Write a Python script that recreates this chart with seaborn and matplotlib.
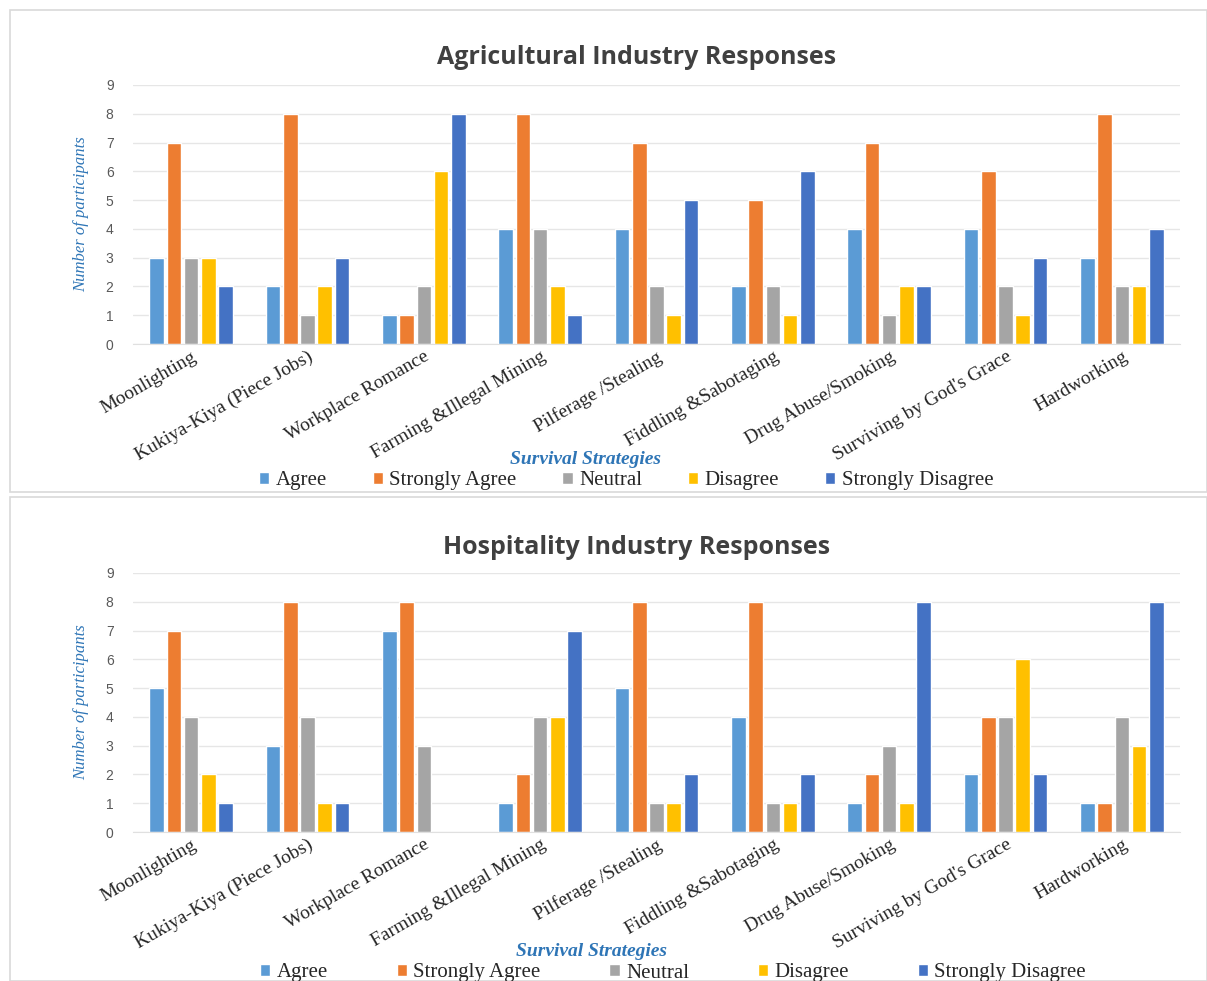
import matplotlib
matplotlib.use("Agg")
import matplotlib.pyplot as plt
from matplotlib.patches import Rectangle, Patch
import seaborn as sns
import pandas as pd

strategies = ["Moonlighting", "Kukiya-Kiya (Piece Jobs)", "Workplace Romance",
              "Farming &Illegal Mining", "Pilferage /Stealing", "Fiddling &Sabotaging",
              "Drug Abuse/Smoking", "Surviving by God's Grace", "Hardworking"]
responses = ["Agree", "Strongly Agree", "Neutral", "Disagree", "Strongly Disagree"]
colors = ["#5B9BD5", "#ED7D31", "#A5A5A5", "#FFC000", "#4472C4"]

agri_agree = [3, 2, 1, 4, 4, 2, 4, 4, 3]
agri_strongly_agree = [7, 8, 1, 8, 7, 5, 7, 6, 8]
agri_neutral = [3, 1, 2, 4, 2, 2, 1, 2, 2]
agri_disagree = [3, 2, 6, 2, 1, 1, 2, 1, 2]
agri_strongly_disagree = [2, 3, 8, 1, 5, 6, 2, 3, 4]

hosp_agree = [5, 3, 7, 1, 5, 4, 1, 2, 1]
hosp_strongly_agree = [7, 8, 8, 2, 8, 8, 2, 4, 1]
hosp_neutral = [4, 4, 3, 4, 1, 1, 3, 4, 4]
hosp_disagree = [2, 1, 0, 4, 1, 1, 1, 6, 3]
hosp_strongly_disagree = [1, 1, 0, 7, 2, 2, 8, 2, 8]


def long_frame(series):
    rows = []
    for resp, vals in zip(responses, series):
        for s, v in zip(strategies, vals):
            rows.append({"Strategy": s, "Response": resp, "Count": v})
    return pd.DataFrame(rows)


agri = long_frame([agri_agree, agri_strongly_agree, agri_neutral,
                   agri_disagree, agri_strongly_disagree])
hosp = long_frame([hosp_agree, hosp_strongly_agree, hosp_neutral,
                   hosp_disagree, hosp_strongly_disagree])

sns.set_style("white")
plt.rcParams["font.family"] = ["Liberation Serif", "DejaVu Serif"]

W, H = 1207, 981
fig = plt.figure(figsize=(W / 100, H / 100), dpi=100)

# panel borders
for (x0, y0, x1, y1) in [(10, 10, 1207, 492), (10, 497, 1207, 981)]:
    fig.patches.append(Rectangle((x0 / W, 1 - y1 / H), (x1 - x0) / W, (y1 - y0) / H,
                                 transform=fig.transFigure, fill=False,
                                 edgecolor="#d9d9d9", linewidth=1.2))

# (data, title, zero line y, title y, xlabel y, legend y, xlabel x, legend x, column spacing)
panels = [
    (agri, "Agricultural Industry Responses", 344, 57, 460, 481, 586, 626, 2.2),
    (hosp, "Hospitality Industry Responses", 832, 548, 951, 973, 591, 673, 3.3),
]

for data, title, y0, ty, xly, legy, xlx, legx, colsp in panels:
    ax = fig.add_axes([133 / W, 1 - y0 / H, 1047 / W, 259 / H])
    sns.barplot(data=data, x="Strategy", y="Count", hue="Response",
                palette=colors, width=0.74, gap=0.15, ax=ax, legend=False,
                saturation=1)
    ax.set_xlim(-0.5, 8.5)
    ax.set_ylim(0, 9)
    ax.set_yticks(range(10))
    ax.yaxis.grid(True, color="#e6e6e6", linewidth=1)
    ax.set_axisbelow(True)
    for sp in ax.spines.values():
        sp.set_visible(False)
    ax.spines["bottom"].set_visible(True)
    ax.spines["bottom"].set_color("#e0e0e0")
    ax.tick_params(axis="y", length=0, labelsize=10, labelcolor="#595959", pad=14)
    ax.tick_params(axis="x", length=0, labelsize=14, pad=3)
    for lab in ax.get_yticklabels():
        lab.set_family(["Liberation Sans", "DejaVu Sans"])
    ax.set_xticks(range(len(strategies)))
    ax.set_xticklabels(strategies, rotation=30, ha="right", rotation_mode="anchor")
    ax.set_xlabel("")
    ax.set_ylabel("Number of participants", fontsize=12, style="italic",
                  color="#2E75B6", labelpad=12)

    fig.text(637 / W, 1 - ty / H, title, ha="center", va="center",
             fontsize=18, fontweight="bold", color="#404040",
             family=["Open Sans", "DejaVu Sans"])
    fig.text(xlx / W, 1 - xly / H, "Survival Strategies", ha="center", va="center",
             fontsize=14, fontweight="bold", style="italic", color="#2E75B6")
    handles = [Patch(facecolor=c) for c in colors]
    fig.legend(handles, responses, loc="center", bbox_to_anchor=(legx / W, 1 - legy / H),
               ncol=5, frameon=False, fontsize=15, handlelength=0.5, handleheight=0.5,
               handletextpad=0.3, columnspacing=colsp, borderpad=0)

fig.savefig("out.png", dpi=100)
